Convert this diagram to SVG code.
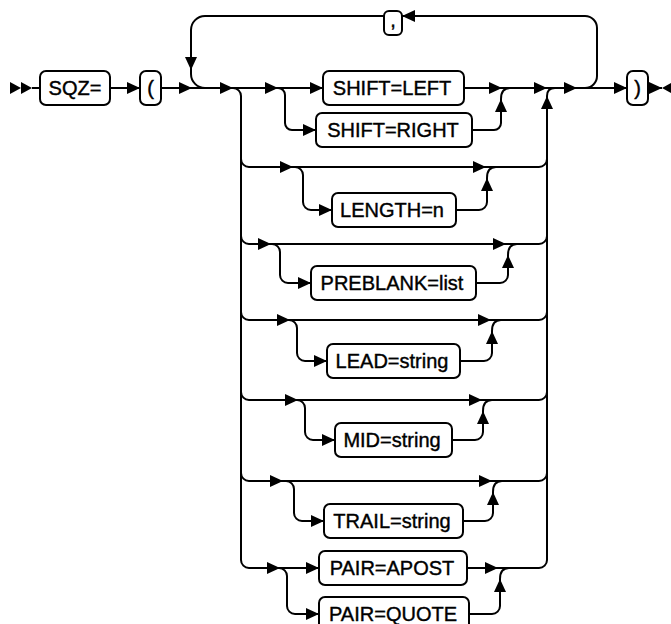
<svg xmlns="http://www.w3.org/2000/svg" width="671" height="624" viewBox="0 0 671 624">
<style>
.box{fill:#fff;stroke:#000;stroke-width:2}
.t{font-family:"Liberation Sans",Arial,sans-serif;font-size:20px;fill:#000;text-anchor:middle;stroke:#000;stroke-width:0.4}
.c path{fill:none;stroke:#000;stroke-width:2}
.c path.a{marker-end:url(#ah)}
</style>
<defs>
<marker id="ah" viewBox="0 0 13 12" refX="13" refY="6" markerWidth="13" markerHeight="12" markerUnits="userSpaceOnUse" orient="auto"><path d="M0,0 L13,6 L0,12 z" fill="#000"/></marker>
</defs>
<g id="connectors" class="c">
<polygon points="10,82 10,94 21,88" fill="#000"/>
<polygon points="21,82 21,94 32,88" fill="#000"/>
<polygon points="673,82 673,94 662,88" fill="#000"/>
<path d="M32,88 H40"/>
<path class="a" d="M110,88 H140"/>
<path class="a" d="M161,88 H192"/>
<path class="a" d="M192,88 H233"/>
<path class="a" d="M233,88 H278"/>
<path class="a" d="M278,88 H323"/>
<path class="a" d="M464,88 H502"/>
<path class="a" d="M502,88 H547"/>
<path class="a" d="M547,88 H577"/>
<path class="a" d="M577,88 H627"/>
<path class="a" d="M648,88 H662"/>
<path class="a" d="M585,88 A12,12 0 0 0 597,76 V28 A12,12 0 0 0 585,16 H402"/>
<path class="a" d="M384,16 H205 A14,14 0 0 0 191,30 V70"/>
<path d="M191,70 V74 A14,14 0 0 0 205,88"/>
<path d="M233,88 A8,8 0 0 1 241,96 V560 A8,8 0 0 0 249,568"/>
<path class="a" d="M539,568 A8,8 0 0 0 547,560 V96"/>
<path d="M547,96 Q547,88 555,88"/>
<path class="a" d="M278,88 A7,7 0 0 1 285,95 V123 A7,7 0 0 0 292,130 H316"/>
<path class="a" d="M472,130 H494 A7,7 0 0 0 501,123 V99"/>
<path d="M501,99 Q501,88 510,88"/>
<path d="M241,159 A8,8 0 0 0 249,167"/>
<path class="a" d="M249,167 H293"/>
<path class="a" d="M293,167 H486"/>
<path d="M486,167 H539 A8,8 0 0 0 547,159"/>
<path class="a" d="M295,167 A8,8 0 0 1 303,175 V202 A8,8 0 0 0 311,210 H332"/>
<path class="a" d="M456,210 H479 A8,8 0 0 0 487,202 V178"/>
<path d="M487,178 Q487,167 496,167"/>
<path d="M241,236 A8,8 0 0 0 249,244"/>
<path class="a" d="M249,244 H271"/>
<path class="a" d="M271,244 H506"/>
<path d="M506,244 H539 A8,8 0 0 0 547,236"/>
<path class="a" d="M272,244 A8,8 0 0 1 280,252 V275 A8,8 0 0 0 288,283 H311"/>
<path class="a" d="M476,283 H500 A8,8 0 0 0 508,275 V255"/>
<path d="M508,255 Q508,244 517,244"/>
<path d="M241,312 A8,8 0 0 0 249,320"/>
<path class="a" d="M249,320 H290"/>
<path class="a" d="M290,320 H491"/>
<path d="M491,320 H539 A8,8 0 0 0 547,312"/>
<path class="a" d="M289,320 A8,8 0 0 1 297,328 V353 A8,8 0 0 0 305,361 H327"/>
<path class="a" d="M460,361 H484 A8,8 0 0 0 492,353 V331"/>
<path d="M492,331 Q492,320 501,320"/>
<path d="M241,392 A8,8 0 0 0 249,400"/>
<path class="a" d="M249,400 H298"/>
<path class="a" d="M298,400 H482"/>
<path d="M482,400 H539 A8,8 0 0 0 547,392"/>
<path class="a" d="M297,400 A8,8 0 0 1 305,408 V432 A8,8 0 0 0 313,440 H335"/>
<path class="a" d="M452,440 H475 A8,8 0 0 0 483,432 V411"/>
<path d="M483,411 Q483,400 492,400"/>
<path d="M241,473 A8,8 0 0 0 249,481"/>
<path class="a" d="M249,481 H283"/>
<path class="a" d="M283,481 H492"/>
<path d="M492,481 H539 A8,8 0 0 0 547,473"/>
<path class="a" d="M286,481 A8,8 0 0 1 294,489 V513 A8,8 0 0 0 302,521 H324"/>
<path class="a" d="M463,521 H485 A8,8 0 0 0 493,513 V492"/>
<path d="M493,492 Q493,481 502,481"/>
<path class="a" d="M249,568 H280"/>
<path class="a" d="M280,568 H319"/>
<path class="a" d="M467,568 H498"/>
<path d="M498,568 H539"/>
<path class="a" d="M279,568 A8,8 0 0 1 287,576 V606 A8,8 0 0 0 295,614 H319"/>
<path class="a" d="M469,614 H492 A8,8 0 0 0 500,606 V579"/>
<path d="M500,579 Q500,568 509,568"/>
</g>
<g id="sqz"><rect class="box" x="40" y="71" width="70" height="34" rx="6"/><text class="t" x="75" y="95">SQZ=</text></g>
<g id="lparen"><rect class="box" x="140" y="71" width="21" height="34" rx="6"/><text class="t" x="150.5" y="95">(</text></g>
<g id="comma"><rect class="box" x="384" y="11" width="18" height="24" rx="5"/><text class="t" x="393" y="27">,</text></g>
<g id="rparen"><rect class="box" x="627" y="71" width="21" height="34" rx="6"/><text class="t" x="637.5" y="95">)</text></g>
<g id="shift-left"><rect class="box" x="323" y="71" width="141" height="34" rx="6"/><text class="t" x="392" y="95">SHIFT=LEFT</text></g>
<g id="shift-right"><rect class="box" x="316" y="113" width="156" height="34" rx="6"/><text class="t" x="393" y="137">SHIFT=RIGHT</text></g>
<g id="length"><rect class="box" x="332" y="193" width="124" height="34" rx="6"/><text class="t" x="392" y="217">LENGTH=n</text></g>
<g id="preblank"><rect class="box" x="311" y="266" width="165" height="34" rx="6"/><text class="t" x="392" y="290">PREBLANK=list</text></g>
<g id="lead"><rect class="box" x="327" y="344" width="133" height="34" rx="6"/><text class="t" x="392" y="368">LEAD=string</text></g>
<g id="mid"><rect class="box" x="335" y="423" width="117" height="34" rx="6"/><text class="t" x="392" y="447">MID=string</text></g>
<g id="trail"><rect class="box" x="324" y="504" width="139" height="34" rx="6"/><text class="t" x="392" y="528">TRAIL=string</text></g>
<g id="pair-apost"><rect class="box" x="319" y="551" width="148" height="34" rx="6"/><text class="t" x="392" y="575">PAIR=APOST</text></g>
<g id="pair-quote"><rect class="box" x="319" y="597" width="150" height="34" rx="6"/><text class="t" x="393" y="621">PAIR=QUOTE</text></g>
</svg>
